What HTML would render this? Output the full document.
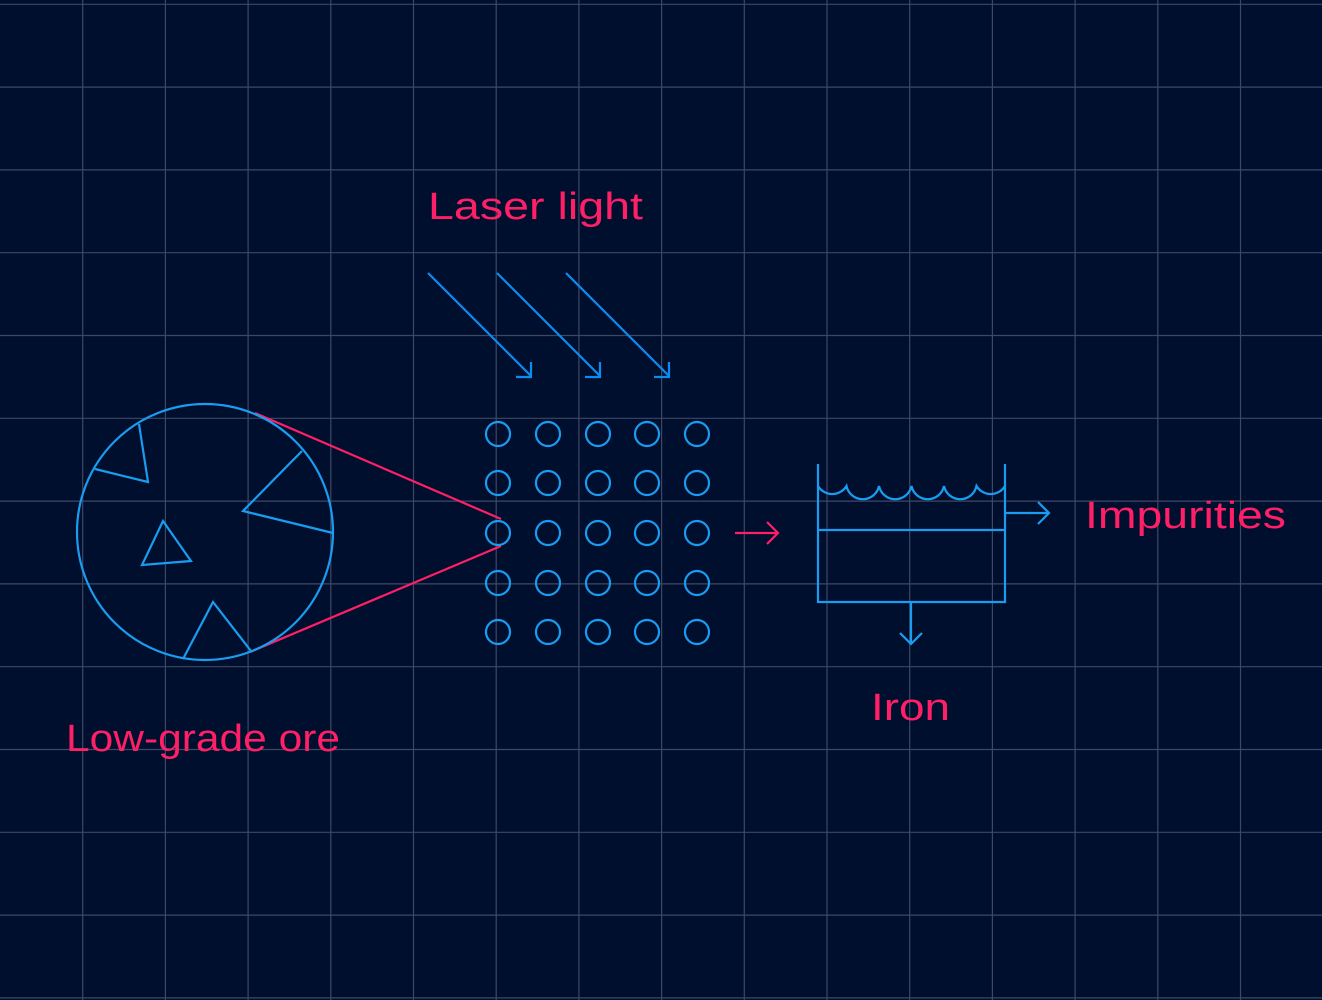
<!DOCTYPE html>
<html><head><meta charset="utf-8"><style>
html,body{margin:0;padding:0;background:#000f2e;}
svg{display:block;}
text{font-family:"Liberation Sans","DejaVu Sans",sans-serif;fill:#ff1f66;font-size:38px;}
</style></head><body>
<svg width="1322" height="1000" viewBox="0 0 1322 1000" xmlns="http://www.w3.org/2000/svg">
<rect width="1322" height="1000" fill="#000f2e"/>
<g stroke="#3d4866" stroke-width="1.2">
<line x1="82.7" y1="0" x2="82.7" y2="1000"/><line x1="165.4" y1="0" x2="165.4" y2="1000"/><line x1="248.1" y1="0" x2="248.1" y2="1000"/><line x1="330.8" y1="0" x2="330.8" y2="1000"/><line x1="413.5" y1="0" x2="413.5" y2="1000"/><line x1="496.2" y1="0" x2="496.2" y2="1000"/><line x1="578.9" y1="0" x2="578.9" y2="1000"/><line x1="661.6" y1="0" x2="661.6" y2="1000"/><line x1="744.3" y1="0" x2="744.3" y2="1000"/><line x1="827" y1="0" x2="827" y2="1000"/><line x1="909.7" y1="0" x2="909.7" y2="1000"/><line x1="992.4" y1="0" x2="992.4" y2="1000"/><line x1="1075.1" y1="0" x2="1075.1" y2="1000"/><line x1="1157.8" y1="0" x2="1157.8" y2="1000"/><line x1="1240.5" y1="0" x2="1240.5" y2="1000"/>
<line x1="0" y1="4.3" x2="1322" y2="4.3"/><line x1="0" y1="87.1" x2="1322" y2="87.1"/><line x1="0" y1="169.9" x2="1322" y2="169.9"/><line x1="0" y1="252.7" x2="1322" y2="252.7"/><line x1="0" y1="335.5" x2="1322" y2="335.5"/><line x1="0" y1="418.3" x2="1322" y2="418.3"/><line x1="0" y1="501.1" x2="1322" y2="501.1"/><line x1="0" y1="583.9" x2="1322" y2="583.9"/><line x1="0" y1="666.7" x2="1322" y2="666.7"/><line x1="0" y1="749.5" x2="1322" y2="749.5"/><line x1="0" y1="832.3" x2="1322" y2="832.3"/><line x1="0" y1="915.1" x2="1322" y2="915.1"/><line x1="0" y1="997.9" x2="1322" y2="997.9"/>
</g>
<g stroke="#ff1f66" stroke-width="2.2" fill="none">
<line x1="255" y1="413" x2="501" y2="519"/>
<line x1="250" y1="652" x2="501" y2="546"/>
<path d="M735 533 H778 M767 522 L778 533 L767 544"/>
</g>
<g stroke="#1a9cf0" stroke-width="2.2" fill="none">
<circle cx="205" cy="532" r="128"/>
<path d="M139 424 L148 482 L95 469"/>
<path d="M302 451 L243 511 L333 533"/>
<path d="M163 521 L191 561 L142 565 Z"/>
<path d="M183 659 L213 602 L251 651"/>
</g>
<g stroke="#0a8cf0" stroke-width="2.2" fill="none">
<path d="M428 273 L531 376 M531 362 V377 H516"/>
<path d="M497 273 L600 376 M600 362 V377 H585"/>
<path d="M566 273 L669 376 M669 362 V377 H654"/>
</g>
<g stroke="#1a9cf0" stroke-width="2.2" fill="none">
<circle cx="498" cy="434" r="12"/><circle cx="548" cy="434" r="12"/><circle cx="598" cy="434" r="12"/><circle cx="647" cy="434" r="12"/><circle cx="697" cy="434" r="12"/>
<circle cx="498" cy="483" r="12"/><circle cx="548" cy="483" r="12"/><circle cx="598" cy="483" r="12"/><circle cx="647" cy="483" r="12"/><circle cx="697" cy="483" r="12"/>
<circle cx="498" cy="533" r="12"/><circle cx="548" cy="533" r="12"/><circle cx="598" cy="533" r="12"/><circle cx="647" cy="533" r="12"/><circle cx="697" cy="533" r="12"/>
<circle cx="498" cy="583" r="12"/><circle cx="548" cy="583" r="12"/><circle cx="598" cy="583" r="12"/><circle cx="647" cy="583" r="12"/><circle cx="697" cy="583" r="12"/>
<circle cx="498" cy="632" r="12"/><circle cx="548" cy="632" r="12"/><circle cx="598" cy="632" r="12"/><circle cx="647" cy="632" r="12"/><circle cx="697" cy="632" r="12"/>
<path d="M818 464 V602 H1005 V464"/>
<line x1="818" y1="530" x2="1005" y2="530"/>
<path d="M818 486 A16.6 16.6 0 0 0 846.5 486 A16.6 16.6 0 0 0 879 486 A16.6 16.6 0 0 0 911.5 486 A16.6 16.6 0 0 0 944 486 A16.6 16.6 0 0 0 976.5 486 A16.6 16.6 0 0 0 1005 486"/>
<path d="M1005 513 H1049 M1038 502 L1049 513 L1038 524"/>
<path d="M911 602 V644 M900 633 L911 644 L922 633"/>
</g>
<text x="428" y="219" textLength="215" lengthAdjust="spacingAndGlyphs">Laser light</text>
<text x="66" y="751" textLength="274" lengthAdjust="spacingAndGlyphs">Low-grade ore</text>
<text x="1085" y="528" textLength="201" lengthAdjust="spacingAndGlyphs">Impurities</text>
<text x="871" y="720" textLength="79" lengthAdjust="spacingAndGlyphs">Iron</text>
</svg>
</body></html>
